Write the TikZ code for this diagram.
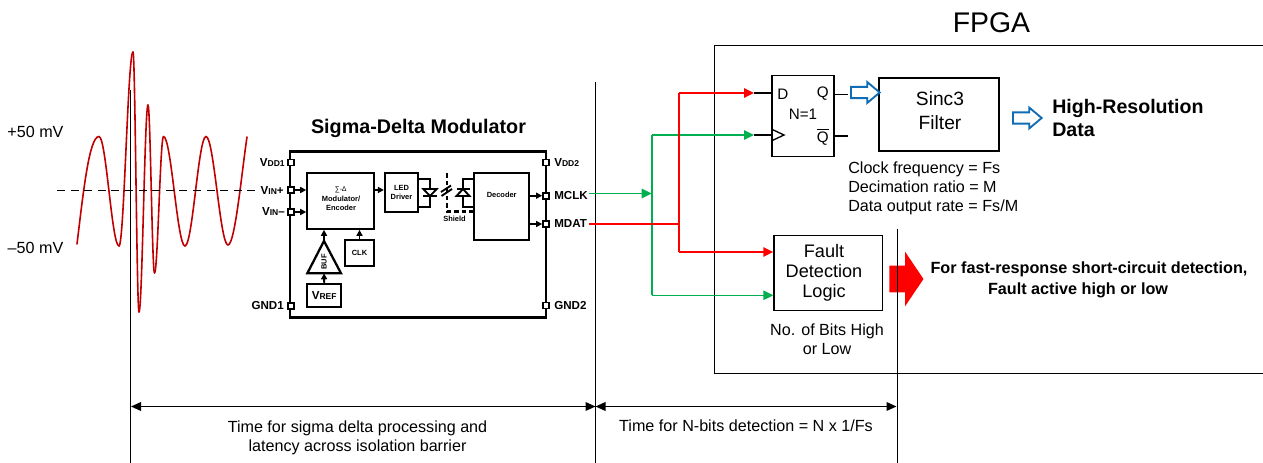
\documentclass[tikz,border=0pt]{standalone}
\usepackage{fontspec}
\setmainfont{Liberation Sans}
\usetikzlibrary{arrows.meta,shapes.arrows,shapes.geometric}

\definecolor{wavered}{HTML}{C00000}
\definecolor{sigred}{HTML}{FF0000}
\definecolor{siggreen}{HTML}{00B050}
\definecolor{hollowblue}{HTML}{0F6CB5}

\tikzset{
  sz/.style 2 args={minimum width=#1*.75pt, minimum height=#2*.75pt, inner sep=0pt},
  lbl/.style={inner sep=0pt, align=center, font=\fontsize{12.1}{14.2}\selectfont},
  lbll/.style={lbl, align=left},
  fflbl/.style={inner sep=0pt, align=center, font=\fontsize{11.4}{14}\selectfont},
  chiplbl/.style={inner sep=0pt, align=center, font=\fontsize{8.7}{9}\selectfont\bfseries},
  tinylbl/.style={inner sep=0pt, align=center, font=\fontsize{5.6}{6.6}\selectfont\bfseries},
  chipbox/.style={draw, line width=1.7pt, sz={#1}},
  thinbox/.style={draw, line width=1.1pt},
  pin/.style={draw, line width=1.3pt, fill=white, sz={6}{6}},
  chiparrow/.style={line width=1.4pt, -{Triangle[length=4.5pt,width=4.5pt]}},
  chipwire/.style={line width=1.4pt},
  bar/.style={line width=1.2pt},
  redsig/.style={sigred, line width=1.2pt},
  greensig/.style={siggreen, line width=1.2pt},
  sigtip/.style={-{Triangle[length=7.5pt,width=7pt]}},
  hollow/.style={single arrow, draw=hollowblue, line width=1.4pt, fill=white, inner sep=0pt,
    text height=7pt, text depth=0pt, single arrow tip angle=80, single arrow head extend=3.6pt, minimum height=21.5pt},
  dim/.style={line width=1.1pt, {Triangle[length=7.5pt,width=6.5pt]}-{Triangle[length=7.5pt,width=6.5pt]}}
}

\newcommand{\smallcap}[2]{#1{\fontsize{6.4}{7}\selectfont #2}}

\begin{document}
\begin{tikzpicture}[x=.75pt, y=-.75pt]
\useasboundingbox (0,0) rectangle (1263,463);

% time markers
\draw [bar] (130.5,90) -- (130.5,463);
\draw [bar] (595.5,82) -- (595.5,463);

% input wave
\draw [wavered, line width=1.2pt, line cap=round] (77,244) .. controls (83,195) and (89,136.5) .. (99,136.5);
\foreach \xb/\yb [remember=\xb as \xa (initially 99), remember=\yb as \ya (initially 136.5)] in
  {119/246, 133/52, 139/312, 148/105, 154.5/273, 163.5/136.5, 185/246, 206/136.5, 228/245}
{
  \pgfmathsetmacro\dx{.36*(\xb-\xa)}
  \draw [wavered, line width=1.2pt, line cap=round] (\xa,\ya) .. controls +(\dx,0) and +(-\dx,0) .. (\xb,\yb);
}
\draw [wavered, line width=1.2pt, line cap=round] (228,245) .. controls (235,245) and (242,170) .. (247,137);
\draw [line width=1pt, dash pattern=on 6pt off 4.2pt] (57,190.5) -- (261,190.5);

\node [lbl] (plus) at (35.5,132) {+50 mV};
\node [lbl] (minus) at (35.5,247.5) {--50 mV};

% modulator chip
\node [inner sep=0pt, align=center, font=\fontsize{14.8}{16}\selectfont\bfseries] (title) at (418.5,128.5) {Sigma-Delta Modulator};
\node [chipbox={256}{166}] (chip) at (418.3,234.5) {};

\node [pin] (vdda) at (290.7,162.5) {};
\node [pin] (vinp) at (290.7,190) {};
\node [pin] (vinm) at (290.7,212) {};
\node [pin] (gnda) at (290.7,305.7) {};
\node [pin] (vddb) at (546,162.5) {};
\node [pin] (mclk) at (546,195.7) {};
\node [pin] (mdat) at (546,224) {};
\node [pin] (gndb) at (546,305.5) {};

\node [chiplbl, anchor=east] at (285,162.5) {\smallcap{V}{DD1}};
\node [chiplbl, anchor=east] at (284,190.5) {\smallcap{V}{IN}+};
\node [chiplbl, anchor=east] at (285,212) {\smallcap{V}{IN}--};
\node [chiplbl, anchor=east] at (284,306) {GND1};
\node [chiplbl, anchor=west] at (554,162.5) {\smallcap{V}{DD2}};
\node [chiplbl, anchor=west] at (554,196) {MCLK};
\node [chiplbl, anchor=west] at (554,224) {MDAT};
\node [chiplbl, anchor=west] at (554,306) {GND2};

\node [chipbox={66.7}{55.4}] (mod) at (340.7,201) {};
\node [inner sep=0pt, font=\fontsize{5.2}{6}\selectfont] (sd) at (340.7,189.5) {∑-∆};
\node [tinylbl] (modtxt) at (341,203) {Modulator/\\Encoder};
\node [chipbox={33}{38.7}, tinylbl] (led) at (401.5,192.7) {LED\\Driver};
\node [chipbox={55.3}{66.7}] (dec) at (501.7,206.7) {};
\node [tinylbl] (dectxt) at (501.7,194.5) {Decoder};
\node [chipbox={29}{25.7}, tinylbl] (clk) at (359.5,252.8) {CLK};
\node [chipbox={33.7}{22.7}, chiplbl] (vref) at (324.2,295.3) {\smallcap{V}{REF}};
\draw [line width=1.7pt, line join=miter] (324,241) -- (341,273.3) -- (307.3,273.3) -- cycle;
\node [tinylbl, rotate=90] (buf) at (324,262) {BUF};
\coordinate (bufa) at (324,241);
\coordinate (bufb) at (324,273.3);

\draw [chiparrow] (vinp) -- (mod.west |- vinp);
\draw [chiparrow] (vinm) -- (mod.west |- vinm);
\draw [chiparrow] (mod.east |- vinp) -- (led.west |- vinp);
\draw [chiparrow] (bufa) -- (mod.south -| bufa);
\draw [chiparrow] (clk.north) -- (clk.north |- mod.south);
\draw [chiparrow] (vref.north) -- (bufb);
\draw [chiparrow] (dec.east |- mclk) -- (mclk);
\draw [chiparrow] (dec.east |- mdat) -- (mdat);

% optocoupler
\draw [chipwire] (418,179) -- (430,179) -- (430,206.7) -- (418,206.7);
\draw [chipwire, fill=white] (423.3,189) -- (436.7,189) -- (430,196) -- cycle;
\draw [chipwire] (423.3,196) -- (436.7,196);
\draw [chipwire] (474,179) -- (463,179) -- (463,206.7) -- (474,206.7);
\draw [chipwire, fill=white] (456.5,196) -- (469.5,196) -- (463,189) -- cycle;
\draw [chipwire] (456.5,189) -- (469.5,189);
\draw [chipwire] (441,192) -- (451,185.5);
\draw [chipwire] (441.5,196) -- (452,189);
\draw [line width=1.6pt, dash pattern=on 3.5pt off 2.2pt] (447,173) -- (447,211.5) -- (474,211.5);
\node [tinylbl] (shield) at (454.5,219) {Shield};

% fpga
\node [inner sep=0pt, font=\fontsize{21.3}{24}\selectfont] (fpga) at (991.5,22.5) {FPGA};
\draw [bar] (1263,45.5) -- (714.5,45.5) -- (714.5,373.5) -- (1263,373.5);

\node [thinbox, sz={62}{80.5}] (ff) at (803,116) {};
\node [fflbl, anchor=west] (d) at (777,94) {D};
\node [fflbl, anchor=east] (q) at (829,94) {Q};
\node [fflbl] (nn) at (803,114) {N=1};
\node [fflbl, anchor=east] (qn) at (829,137) {$\overline{\mbox{Q}}$};
\draw [line width=1pt] (ff.west |- 0,129) -- (784,135) -- (ff.west |- 0,141);
\coordinate (dlead) at (754,93);
\coordinate (clead) at (754,135);
\coordinate (qlead) at (848,94.5);
\coordinate (nlead) at (848,136);
\draw [bar] (dlead) -- (ff.west |- dlead);
\draw [bar] (clead) -- (ff.west |- clead);
\draw [bar] (ff.east |- qlead) -- (qlead);
\draw [bar] (ff.east |- nlead) -- (nlead);

\node [draw, line width=1.7pt, sz={120}{73}] (sinc) at (938.7,114.2) {};
\node [inner sep=0pt, align=center, font=\fontsize{14.4}{18}\selectfont] (sinctxt) at (940,111) {Sinc3\\Filter};
\node [hollow] (hola) at (862,92.5) {};
\node [hollow] (holb) at (1024,118) {};
\node [inner sep=0pt, align=left, font=\fontsize{14.7}{17.3}\selectfont\bfseries, anchor=west] (hires) at (1052,118) {High-Resolution\\Data};
\node [lbll, anchor=north west] (clock) at (848,162) {Clock frequency = Fs\\Decimation ratio = M\\Data output rate = Fs/M};

\node [thinbox, sz={108.3}{75}] (fault) at (828.2,273.2) {};
\node [inner sep=0pt, align=center, font=\fontsize{13.6}{15}\selectfont] (faulttxt) at (824,273) {Fault\\Detection\\Logic};
\node [lbl] (bits) at (827,339) {No. of Bits High\\or Low};

\node [single arrow, fill=sigred, inner sep=0pt, text height=19.5pt, text depth=0pt, single arrow tip angle=112,
  single arrow head extend=10.5pt, minimum height=25.5pt] (fast) at (902,279) {};
\draw [line width=1pt] (897.5,229) -- (897.5,463);
\node [inner sep=0pt, align=center, font=\fontsize{12.15}{15.8}\selectfont\bfseries] (fasttxt) at (1089,279.5) {For fast-response short-circuit detection,\\Fault active high or low\hspace*{16.5pt}};

% bitstream wires
\coordinate (gtop) at (651.7,135);
\coordinate (gmid) at (651.7,193.5);
\coordinate (gbot) at (651.7,295.3);
\coordinate (rtop) at (678.7,93);
\coordinate (rmid) at (678.7,224);
\coordinate (rbot) at (678.7,252);
\draw [greensig, sigtip] (mclk.east |- 0,193.5) ++(39,0) -- (gmid);
\draw [greensig, sigtip] (gtop) -- (clead);
\draw [greensig, sigtip] (gbot) -- (fault.west |- gbot);
\draw [greensig] (gtop) -- (gbot);
\draw [redsig] (mdat.east) ++(39,0) -- (rmid);
\draw [redsig, sigtip] (rtop) -- (dlead);
\draw [redsig, sigtip] (rbot) -- (fault.west |- rbot);
\draw [redsig] (rtop) -- (rbot);

% timings
\coordinate (dima) at (131,406.5);
\coordinate (dimb) at (595.5,406.5);
\coordinate (dimc) at (896.5,406.5);
\draw [dim] (dima) -- (dimb);
\draw [dim] (dimb) -- (dimc);
\node [lbl] (lata) at (357.5,438) {Time for sigma delta processing and\\latency across isolation barrier};
\node [lbl] (latb) at (746,426) {Time for N-bits detection = N x 1/Fs};

\end{tikzpicture}
\end{document}
